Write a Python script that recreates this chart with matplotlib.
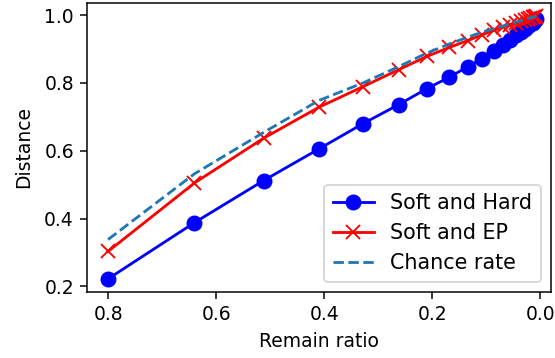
import matplotlib
matplotlib.use('Agg')
from matplotlib import pyplot as plt

remain = [0.8, 0.64, 0.512, 0.41, 0.328, 0.262, 0.21, 0.168, 0.134, 0.107,
          0.086, 0.069, 0.055, 0.044, 0.035, 0.028, 0.023, 0.018, 0.014, 0.012,
          0.009, 0.007]
soft_hard = [0.222, 0.388, 0.512, 0.605, 0.68, 0.736, 0.783, 0.817, 0.848, 0.872,
             0.895, 0.912, 0.928, 0.94, 0.95, 0.96, 0.967, 0.973, 0.978, 0.982,
             0.985, 0.988]
soft_ep = [0.303, 0.505, 0.637, 0.728, 0.789, 0.839, 0.878, 0.905, 0.925, 0.942,
           0.955, 0.965, 0.972, 0.978, 0.982, 0.986, 0.989, 0.991, 0.993, 0.994,
           0.995, 0.996]
chance = [0.338, 0.532, 0.654, 0.748, 0.8, 0.848, 0.888, 0.915, 0.935, 0.95,
          0.96, 0.968, 0.975, 0.98, 0.984, 0.987, 0.99, 0.992, 0.994, 0.995,
          0.996, 0.997]

dpi = 135
fig, ax = plt.subplots(figsize=(555 / dpi, 358 / dpi), dpi=dpi)
ax.plot(remain, soft_hard, 'bo-', markersize=7.5, label='Soft and Hard')
ax.plot(remain, soft_ep, 'rx-', markersize=7, label='Soft and EP')
ax.plot(remain, chance, '--', label='Chance rate')
ax.set_xlim(0.839, -0.02)
ax.set_xticks([0.8, 0.6, 0.4, 0.2, 0.0])
ax.set_yticks([0.2, 0.4, 0.6, 0.8, 1.0])
ax.set_xlabel('Remain ratio')
ax.set_ylabel('Distance', labelpad=6)
ax.legend(loc='lower right', fontsize=11)
plt.subplots_adjust(left=87 / 555, right=551 / 555, top=1 - 3 / 358, bottom=1 - 292 / 358)
plt.savefig('out.png')
